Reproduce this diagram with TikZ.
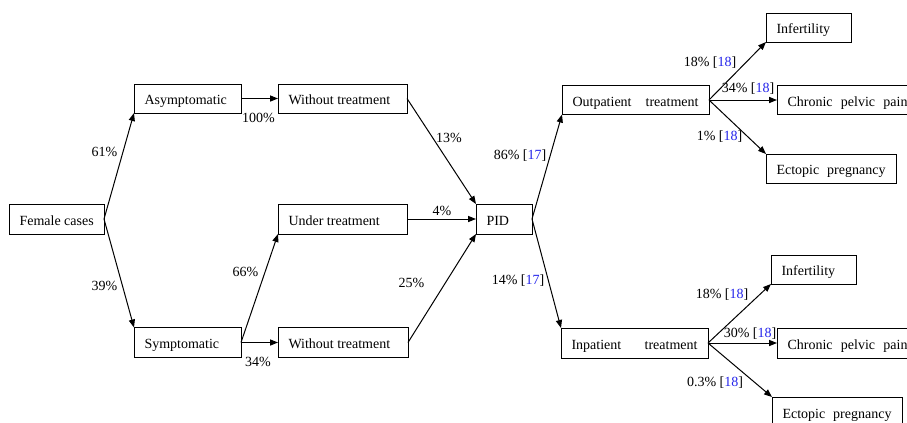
\documentclass[tikz,border=0pt]{standalone}
\usepackage{fontspec}
\setmainfont{Liberation Serif}
\usetikzlibrary{arrows.meta}
\definecolor{citeblue}{RGB}{35,35,235}
\newcommand\cit[1]{[\textcolor{citeblue}{#1}]}
\begin{document}
\begin{tikzpicture}[x=0.75pt,y=-0.75pt,
  every node/.style={font=\fontsize{10.5pt}{12pt}\selectfont},
  box/.style={draw, line width=0.75pt, inner xsep=7.875pt, inner ysep=0pt, outer sep=0pt,
    text height=10.5pt, text depth=0.9pt},
  lab/.style={inner sep=0pt},
  arr/.style={line width=0.75pt, -{Triangle[length=6pt,width=4.6pt]}}]
\useasboundingbox (0,0) rectangle (907,422);
\clip (0,0) rectangle (907,422);
% boxes
\node[box,minimum height=22.5pt] (fem) at (56.5,219) {\makebox[55.5pt][l]{Female cases}};
\node[box,minimum height=21.75pt] (asym) at (187.5,98.5) {\makebox[64.5pt][l]{Asymptomatic}};
\node[box,minimum height=21.75pt] (wt1) at (342.5,98.5) {\makebox[81pt][l]{Without treatment}};
\node[box,minimum height=22.5pt] (ut) at (342.5,219) {\makebox[81pt][l]{Under treatment}};
\node[box,minimum height=22.5pt] (sym) at (187.5,342.5) {\makebox[64.5pt][l]{Symptomatic}};
\node[box,minimum height=22.5pt] (wt2) at (343,342.5) {\makebox[81.75pt][l]{Without treatment}};
\node[box,minimum height=22.5pt] (pid) at (504,219) {\makebox[26.25pt][l]{PID}};
\node[box,minimum height=21.75pt] (out) at (635.5,100) {\makebox[94.5pt][s]{Outpatient treatment}};
\node[box,minimum height=21.75pt] (inf1) at (808.5,27.5) {\makebox[48pt][l]{Infertility}};
\node[box,minimum height=21.75pt] (cpp1) at (847.5,100) {\makebox[90pt][s]{Chronic pelvic pain}};
\node[box,minimum height=21.75pt] (ect1) at (831,168.5) {\makebox[81.75pt][s]{Ectopic pregnancy}};
\node[box,minimum height=22.5pt] (inp) at (634.5,343) {\makebox[94.5pt][s]{Inpatient treatment}};
\node[box,minimum height=21.75pt] (inf2) at (813.5,269.5) {\makebox[48pt][l]{Infertility}};
\node[box,minimum height=22.5pt] (cpp2) at (847.5,343) {\makebox[90pt][s]{Chronic pelvic pain}};
\node[box,minimum height=22.5pt] (ect2) at (837,412) {\makebox[81.75pt][s]{Ectopic pregnancy}};
% connectors
\draw[arr] (fem.east) -- (asym.south west);
\draw[arr] (fem.east) -- (sym.north west);
\draw[arr] (asym.east) -- (wt1.west);
\draw[arr] (sym.east) -- (wt2.west);
\draw[arr] (sym.east) -- (ut.south west);
\draw[arr] (wt1.east) -- (pid.north west);
\draw[arr] (ut.east) -- (pid.west);
\draw[arr] (wt2.east) -- (pid.south west);
\draw[arr] (pid.east) -- (out.south west);
\draw[arr] (pid.east) -- (inp.north west);
\draw[arr] (out.east) -- (inf1.south west);
\draw[arr] (out.east) -- (cpp1.west);
\draw[arr] (out.east) -- (ect1.north west);
\draw[arr] (inp.east) -- (inf2.south west);
\draw[arr] (inp.east) -- (cpp2.west);
\draw[arr] (inp.east) -- (ect2.north west);
% labels
\node[lab] (l61) at (104.5,152) {61\%};
\node[lab] (l39) at (104.5,286) {39\%};
\node[lab] (l100) at (258.5,118) {100\%};
\node[lab] (l34) at (258,362) {34\%};
\node[lab] (l66) at (245.5,272) {66\%};
\node[lab] (l13) at (449,138) {13\%};
\node[lab] (l4) at (442,211) {4\%};
\node[lab] (l25) at (411.5,283) {25\%};
\node[lab] (l86) at (520,156) {86\% \cit{17}};
\node[lab] (l14) at (518,281) {14\% \cit{17}};
\node[lab] (o18) at (710,63) {18\% \cit{18}};
\node[lab] (o34) at (748,89) {34\% \cit{18}};
\node[lab] (o1) at (719.5,137) {1\% \cit{18}};
\node[lab] (i18) at (722,295) {18\% \cit{18}};
\node[lab] (i30) at (750,334) {30\% \cit{18}};
\node[lab] (i03) at (715,383) {0.3\% \cit{18}};
\end{tikzpicture}
\end{document}
